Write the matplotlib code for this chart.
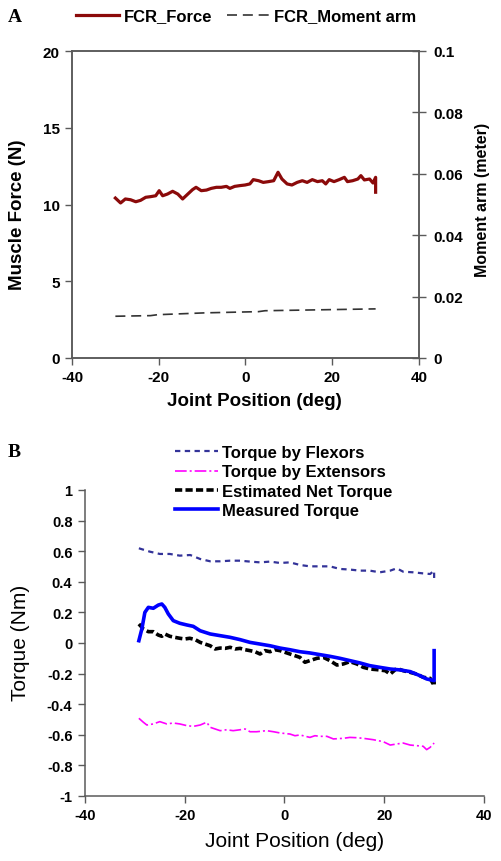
import matplotlib
matplotlib.use("Agg")
import matplotlib.pyplot as plt

# ---- panel A data ----
FORCE_X = [-30.0, -28.8, -27.7, -26.5, -25.3, -24.2, -23.0, -21.9, -20.7, -19.9, -19.1, -18.0,
           -16.8, -15.6, -14.5, -13.3, -12.2, -11.4, -10.2, -9.0, -7.9, -6.7, -5.6, -4.4, -3.6,
           -2.5, -1.3, -0.1, 1.0, 1.8, 3.0, 4.1, 5.3, 6.5, 7.5, 8.4, 9.6, 10.7, 11.9, 13.1, 14.2,
           15.4, 16.6, 17.7, 18.5, 19.3, 20.4, 21.6, 22.8, 23.5, 24.7, 25.9, 26.6, 27.4, 28.6,
           29.4, 30.0, 30.0]
FORCE_Y = [10.42, 10.10, 10.36, 10.31, 10.18, 10.27, 10.47, 10.51, 10.57, 10.90, 10.57, 10.68,
           10.86, 10.68, 10.36, 10.68, 10.97, 11.12, 10.90, 10.94, 11.05, 11.12, 11.12, 11.18, 11.05,
           11.18, 11.23, 11.27, 11.34, 11.62, 11.55, 11.44, 11.49, 11.55, 12.10, 11.66, 11.34, 11.27,
           11.44, 11.55, 11.44, 11.62, 11.49, 11.55, 11.34, 11.62, 11.49, 11.62, 11.77, 11.49, 11.55,
           11.66, 11.88, 11.60, 11.66, 11.40, 11.77, 10.80]
MOMENT_X = [-30.0, -21.9, -20.3, -9.4, 3.0, 4.5, 30.0]
MOMENT_Y = [0.0136, 0.0138, 0.0141, 0.0147, 0.0151, 0.0154, 0.0160]

# ---- panel B data ----
FLEX_X = [-29.2, -27.0, -25.0, -23.0, -21.0, -18.9, -16.9, -14.9, -12.9, -10.9, -8.9, -6.9, -4.9,
          -2.9, -0.9, 1.1, 3.1, 5.1, 7.1, 9.1, 11.1, 13.1, 15.1, 17.1, 19.1, 21.2, 22.5, 23.8,
          25.8, 27.8, 29.2, 30.0, 30.0]
FLEX_Y = [0.619, 0.597, 0.582, 0.582, 0.571, 0.575, 0.549, 0.534, 0.534, 0.538, 0.538, 0.532, 0.527,
          0.532, 0.523, 0.527, 0.510, 0.501, 0.501, 0.501, 0.484, 0.480, 0.473, 0.473, 0.462, 0.473,
          0.488, 0.466, 0.462, 0.455, 0.451, 0.473, 0.397]

EXT_X = [-29.2, -28.3, -27.6, -26.3, -25.0, -23.6, -22.3, -21.0, -19.6, -18.3, -16.9, -15.6, -14.9,
         -12.9, -11.6, -10.3, -8.9, -7.9, -6.9, -5.6, -3.6, -2.2, -0.9, 1.1, 2.1, 3.1, 5.1, 6.1,
         7.1, 8.5, 9.8, 11.8, 13.1, 14.5, 15.8, 17.8, 19.8, 21.2, 22.5, 23.8, 25.2, 26.5, 27.8,
         28.5, 29.2, 30.0]
EXT_Y = [-0.492, -0.518, -0.536, -0.529, -0.514, -0.529, -0.523, -0.529, -0.540, -0.545, -0.536,
         -0.518, -0.551, -0.573, -0.567, -0.573, -0.567, -0.562, -0.580, -0.580, -0.573, -0.580,
         -0.588, -0.595, -0.606, -0.601, -0.617, -0.606, -0.610, -0.610, -0.627, -0.623, -0.617,
         -0.619, -0.623, -0.632, -0.645, -0.667, -0.660, -0.654, -0.667, -0.671, -0.675, -0.697,
         -0.682, -0.654]

NET_X = [-29.2, -28.3, -27.3, -26.3, -25.3, -24.6, -24.0, -23.0, -22.0, -21.0, -20.0, -19.0, -17.9,
         -16.9, -15.9, -14.9, -13.9, -12.9, -11.9, -10.9, -9.9, -8.9, -7.9, -6.9, -5.9, -4.9, -3.9,
         -2.9, -1.9, -0.9, 1.1, 3.1, 4.1, 5.1, 6.5, 7.8, 9.1, 10.5, 11.8, 13.1, 14.5, 15.8, 17.1,
         18.5, 20.2, 21.2, 22.5, 23.8, 25.2, 26.5, 27.8, 29.2, 30.0, 30.0]
NET_Y = [0.124, 0.092, 0.074, 0.074, 0.052, 0.044, 0.059, 0.044, 0.037, 0.031, 0.026, 0.031, 0.022,
         0.004, -0.007, -0.018, -0.039, -0.033, -0.035, -0.028, -0.039, -0.035, -0.044, -0.050,
         -0.057, -0.072, -0.050, -0.057, -0.044, -0.050, -0.072, -0.094, -0.126, -0.115, -0.100,
         -0.094, -0.115, -0.144, -0.137, -0.122, -0.137, -0.159, -0.170, -0.174, -0.181, -0.203,
         -0.166, -0.181, -0.192, -0.203, -0.224, -0.231, -0.279, -0.250]

MEAS_X = [-29.2, -28.6, -28.0, -27.3, -26.3, -25.3, -24.6, -24.0, -23.3, -22.3, -21.0, -19.6, -18.3,
          -16.9, -14.9, -12.9, -10.9, -8.9, -6.9, -4.9, -2.9, -0.9, 1.1, 3.1, 5.1, 7.1, 9.1, 11.1,
          13.1, 15.1, 17.1, 19.1, 21.2, 23.2, 25.2, 27.2, 28.5, 30.0, 30.0]
MEAS_Y = [0.015, 0.092, 0.200, 0.233, 0.227, 0.248, 0.255, 0.233, 0.190, 0.146, 0.129, 0.118, 0.109,
          0.080, 0.059, 0.048, 0.037, 0.022, 0.004, -0.007, -0.018, -0.033, -0.044, -0.057, -0.065,
          -0.076, -0.087, -0.100, -0.115, -0.130, -0.148, -0.159, -0.170, -0.176, -0.187, -0.214,
          -0.235, -0.246, -0.050]

# ---- style ----
AXIS = "#5a5a5a"
SANS = "Liberation Sans"
SERIF = "Liberation Serif"
W, H = 502, 862

plt.rcParams["font.family"] = SANS
plt.rcParams["axes.unicode_minus"] = False


def _style_ticks(ax, size=10.5):
    ax.tick_params(direction="out", length=5, width=1, color=AXIS, pad=4,
                   labelsize=size)
    for lab in ax.get_xticklabels() + ax.get_yticklabels():
        lab.set_fontweight("bold")
    for s in ax.spines.values():
        s.set_color(AXIS)
        s.set_linewidth(1.1)


fig = plt.figure(figsize=(W / 100, H / 100), dpi=100)

# ================= panel A =================
axA = fig.add_axes([72 / W, 1 - 359 / H, 347 / W, 307 / H])
axA2 = axA.twinx()
l1, = axA.plot(FORCE_X, FORCE_Y, color="#8b0a0a", lw=2.3, solid_joinstyle="round")
l2, = axA2.plot(MOMENT_X, MOMENT_Y, color="#333333", lw=1.2, dashes=(6, 3.5))

axA.set_xlim(-40, 40)
axA.set_ylim(0, 20)
axA.set_xticks([-40, -20, 0, 20, 40])
axA.set_yticks([0, 5, 10, 15, 20])
axA2.set_ylim(0, 0.1)
axA2.set_yticks([0, 0.02, 0.04, 0.06, 0.08, 0.1])
axA2.set_yticklabels(["0", "0.02", "0.04", "0.06", "0.08", "0.1"])
_style_ticks(axA, 11)
_style_ticks(axA2, 11)
axA2.tick_params(axis="y", direction="inout", length=10, pad=5)

axA.set_xlabel("Joint Position (deg)", fontsize=13.5, fontweight="bold")
axA.xaxis.set_label_coords((254 - 72) / 347, -(402 - 359) / 307)
axA.xaxis.label.set_va("center")
axA.set_ylabel("Muscle Force (N)", fontsize=13.5, fontweight="bold")
axA.yaxis.set_label_coords((18 - 72) / 347, 1 - (215 - 52) / 307)
axA.yaxis.label.set_va("center")
axA2.set_ylabel("Moment arm (meter)", fontsize=11.5, fontweight="bold")
axA2.yaxis.set_label_coords((483 - 72) / 347, 1 - (200 - 52) / 307)
axA2.yaxis.label.set_va("center")

fig.legend([l1, l2], ["FCR_Force", "FCR_Moment arm"], loc="center left",
           bbox_to_anchor=(76 / W, 1 - 17 / H), ncol=2, frameon=False,
           borderpad=0, borderaxespad=0, handlelength=2.6, handletextpad=0.25,
           columnspacing=0.9, prop={"family": SANS, "weight": "bold", "size": 12})
fig.text(8 / W, 1 - 18 / H, "A", family=SERIF, fontweight="bold", fontsize=14,
         va="center", ha="left")

# ================= panel B =================
axB = fig.add_axes([85 / W, 1 - 797 / H, 399 / W, 306 / H])
b1, = axB.plot(FLEX_X, FLEX_Y, color="#333399", lw=1.6, dashes=(2.4, 2.0))
b2, = axB.plot(EXT_X, EXT_Y, color="#ff00ff", lw=1.2, dashes=(7, 1.8, 1.2, 1.8))
b3, = axB.plot(NET_X, NET_Y, color="black", lw=2.6, dashes=(2.0, 0.9))
b4, = axB.plot(MEAS_X, MEAS_Y, color="#0000ff", lw=2.6)

axB.set_xlim(-40, 40)
axB.set_ylim(-1, 1)
axB.set_xticks([-40, -20, 0, 20, 40])
axB.set_yticks([-1, -0.8, -0.6, -0.4, -0.2, 0, 0.2, 0.4, 0.6, 0.8, 1])
axB.set_yticklabels(["-1", "-0.8", "-0.6", "-0.4", "-0.2", "0", "0.2", "0.4", "0.6", "0.8", "1"])
_style_ticks(axB, 10.5)
axB.spines["top"].set_visible(False)
axB.spines["right"].set_visible(False)

axB.set_xlabel("Joint Position (deg)", fontsize=15)
axB.xaxis.set_label_coords((295 - 85) / 399, -(842 - 797) / 306)
axB.xaxis.label.set_va("center")
axB.set_ylabel("Torque (Nm)", fontsize=15)
axB.yaxis.set_label_coords((20 - 85) / 399, 1 - (643 - 491) / 306)
axB.yaxis.label.set_va("center")

fig.legend([b1, b2, b3, b4],
           ["Torque by Flexors", "Torque by Extensors", "Estimated Net Torque", "Measured Torque"],
           loc="center left", bbox_to_anchor=(175 / W, 1 - 482.5 / H), ncol=1, frameon=False,
           borderpad=0, borderaxespad=0, handlelength=2.6, handletextpad=0.25,
           labelspacing=0.25, prop={"family": SANS, "weight": "bold", "size": 12})
fig.text(8 / W, 1 - 453 / H, "B", family=SERIF, fontweight="bold", fontsize=14,
         va="center", ha="left")

fig.savefig("out.png", dpi=100, facecolor="white")
